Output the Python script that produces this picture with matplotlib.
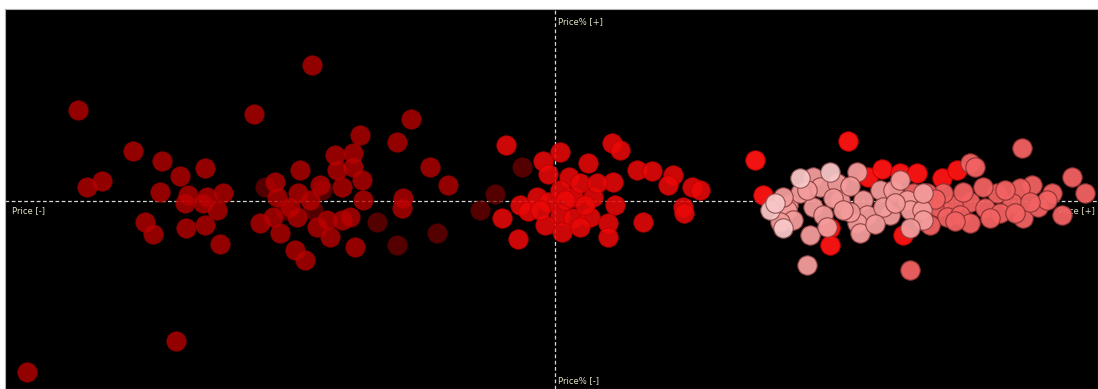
import matplotlib
matplotlib.use("Agg")
import matplotlib.pyplot as plt

# Price change (x) vs. Price% change (y), one list per cluster
deep_x = [-24.3, -47.7, -30.1, -42.2, -39.3, -35.0, -37.5, -45.3, -46.8, -39.5,
          -36.7, -34.8, -33.2, -37.0, -35.2, -33.8, -41.0, -40.2, -36.9, -35.0,
          -33.5, -37.9, -52.8, -19.5, -15.8, -14.4, -22.0, -20.2, -25.5, -28.0,
          -12.5, -21.3, -19.3, -23.5, -27.8, -25.7, -24.5, -19.2, -15.2, -15.3,
          -26.5, -29.5, -28.2, -27.5, -25.8, -23.8, -22.8, -21.3, -20.5, -22.5,
          -20.0, -26.0, -25.0, -20.2, -21.8, -10.7]
deep_y = [13.6, 9.1, 8.7, 5.0, 4.0, 3.3, 2.5, 2.0, 1.4, 0.9,
          0.6, 0.4, 0.8, -0.2, -0.2, -0.9, -2.1, -3.3, -2.7, -2.4,
          -4.3, -14.0, -17.1, 6.6, 5.9, 8.2, 4.6, 4.8, 3.1, 1.9,
          3.4, 1.4, 2.1, 1.6, 0.4, 0.8, 0.1, 0.1, 0.3, -0.7,
          -0.6, -2.2, -1.6, -3.2, -1.6, -2.6, -1.9, -1.9, -1.6, -3.6,
          -4.6, -4.9, -5.9, 3.4, 3.1, 1.6]

faded_x = [-17.8, -11.8, -15.8, -24.2, -23.3, -6.0, -7.5, -3.3, -27.0, -29.0]
faded_y = [-2.1, -3.2, -4.4, -0.9, 1.1, 0.7, -0.9, 3.4, -0.9, 1.4]

mid_x = [-4.9, 0.5, -1.2, 3.3, -0.7, 5.7, 6.5, 1.4, 5.8, 8.2,
         9.7, 11.8, 11.3, 13.7, 14.5, -3.5, -2.7, -1.8, -0.7, 1.8,
         3.8, 2.5, 4.2, 6.0, -5.3, 0.5, 1.8, 3.5, -1.0, 0.7,
         2.5, 5.3, 5.3, -3.7, 8.8, 12.8, 12.9, 0.5, 3.0, -1.5, 1.0]
mid_y = [5.6, 4.9, 4.0, 3.8, 2.7, 5.8, 5.1, 2.4, 1.9, 3.1,
         3.0, 2.6, 1.6, 1.4, 1.1, -0.4, -1.0, 0.4, -0.1, 0.4,
         0.4, 1.8, 1.8, -0.4, -1.7, -1.4, -1.7, -1.6, -2.4, -3.1,
         -2.6, -2.2, -3.6, -3.8, -2.1, -0.6, -1.2, 1.1, -0.4, -0.9, 0.1]

hot_x = [20.0, 29.3, 20.8, 27.5, 27.5, 34.8, 31.3, 32.7, 34.5, 36.2, 38.7, 40.2]
hot_y = [4.1, 6.0, 0.6, -2.7, -4.4, -3.4, 2.4, 3.2, 2.8, 2.8, 2.3, 3.1]

salmon_x = [46.7, 41.5, 42.0, 51.7, 53.0, 49.7, 47.7, 46.5, 44.2, 42.8,
            41.5, 43.0, 45.7, 44.5, 46.8, 48.3, 49.2, 50.7, 38.3, 36.5,
            39.8, 39.2, 37.5, 40.5, 38.8, 40.8, 37.2, 35.8, 41.5, 35.5,
            45.0, 47.5, 46.0, 43.5, 40.0, 38.0]
salmon_y = [5.3, 3.8, 3.4, 2.4, 0.8, 0.8, 1.6, 1.3, 0.8, 1.4,
            -0.1, -0.7, -0.2, -1.2, -1.7, -0.6, 0.1, -1.4, -0.6, -0.9,
            -0.4, -1.6, -2.4, -1.4, 0.8, 0.9, 0.8, 0.8, -2.2, -6.9,
            1.1, -0.1, -1.2, -1.7, -2.0, 0.2]

pink_x = [23.3, 24.5, 25.8, 26.5, 28.2, 28.5, 25.8, 26.8, 25.5, 25.2,
          30.2, 30.8, 31.2, 30.2, 29.5, 32.5, 33.5, 33.8, 35.2, 35.5,
          36.7, 36.8, 23.2, 27.8, 28.8, 23.8, 22.5, 27.2, 32.8, 34.5,
          36.8, 35.5, 30.5, 22.8, 25.2, 29.5, 32.0, 34.0]
pink_y = [-0.4, 0.8, 2.4, 1.4, 1.8, 0.1, -0.6, -1.4, -3.4, -6.4,
          2.9, 0.1, -1.4, -2.2, -1.1, 1.1, -1.4, 1.1, 0.1, -0.9,
          -0.9, 0.8, -0.9, 0.3, -0.9, -1.9, -2.1, -2.6, -0.6, 2.1,
          -1.9, -2.7, -3.2, 0.4, 1.1, 1.5, -2.3, -0.2]

blush_x = [21.5, 22.8, 24.5, 27.5, 22.0]
blush_y = [-0.9, -2.7, 2.3, 2.9, -0.2]

axis_labels = ["Price% [+]", "Price% [-]", "Price [-]", "Price [+]"]

W, H = 1098, 389
fig = plt.figure(figsize=(W / 100, H / 100), dpi=100, facecolor="white")
ax = fig.add_axes([5 / W, 0, (W - 5) / W, (H - 9) / H])
ax.set_facecolor("black")
ax.set_xlim(-55.0, 54.3)
ax.set_ylim(-18.8, 19.2)
ax.set_xticks([])
ax.set_yticks([])
for sp in ax.spines.values():
    sp.set_color("#b0b0b0")
    sp.set_linewidth(0.8)

# crosshair through the origin
line_kw = dict(color="#d8d8d8", lw=0.9, dashes=(3, 2), zorder=1)
ax.axhline(0, **line_kw)
ax.axvline(0, **line_kw)

txt_kw = dict(color="#e6e6c8", fontsize=6, zorder=2, clip_on=True)
ax.text(0.3, 17.9, axis_labels[0], va="center", ha="left", **txt_kw)
ax.text(0.3, -18.0, axis_labels[1], va="center", ha="left", **txt_kw)
ax.text(-54.3, -1.0, axis_labels[2], va="center", ha="left", **txt_kw)
ax.text(50.3, -1.0, axis_labels[3], va="center", ha="left", **txt_kw)

S = 195
ax.scatter(faded_x, faded_y, s=S, c="#780000", alpha=0.7,
           edgecolors="#5a0000", linewidths=0.6, zorder=3)
ax.scatter(deep_x, deep_y, s=S, c="#bd0000", alpha=0.78,
           edgecolors="#950000", linewidths=0.6, zorder=3)
ax.scatter(mid_x, mid_y, s=S, c="#ea0808", alpha=0.88,
           edgecolors="#bb0000", linewidths=0.6, zorder=4)
ax.scatter(hot_x, hot_y, s=S, c="#ff1414", alpha=0.95,
           edgecolors="#c00000", linewidths=0.7, zorder=4)
ax.scatter(salmon_x, salmon_y, s=S, c="#f26262", alpha=0.95,
           edgecolors="#8a3030", linewidths=0.8, zorder=5)
ax.scatter(pink_x, pink_y, s=S, c="#f49c9c", alpha=0.95,
           edgecolors="#8a4040", linewidths=0.8, zorder=6)
ax.scatter(blush_x, blush_y, s=S, c="#f8c6c6", alpha=0.95,
           edgecolors="#8a5050", linewidths=0.8, zorder=6)

fig.savefig("out.png", dpi=100, facecolor="white")
